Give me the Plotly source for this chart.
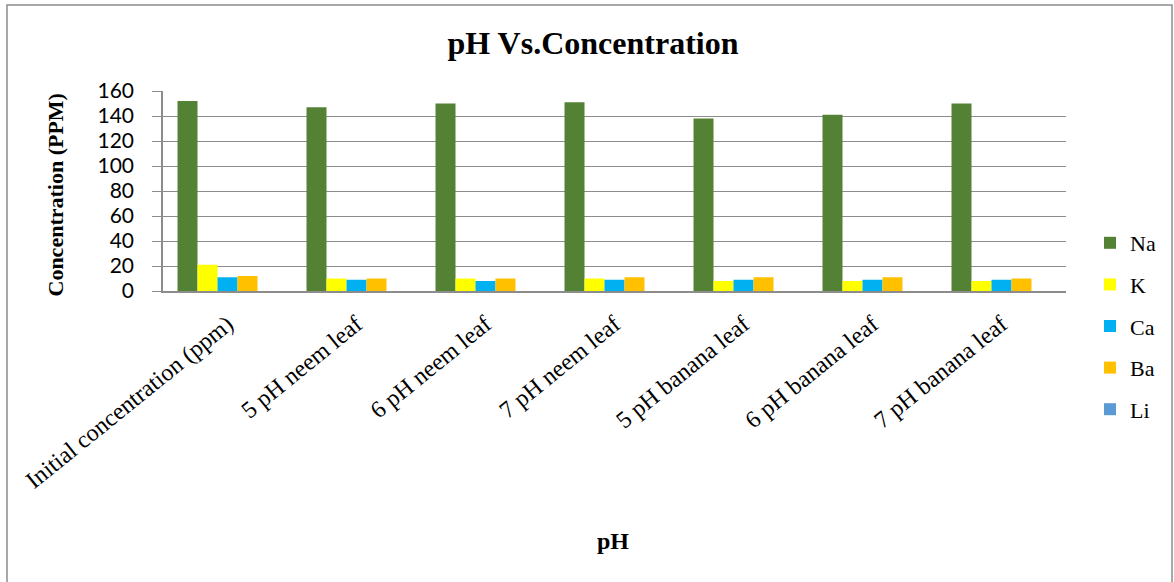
import plotly.graph_objects as go

categories = ["Initial concentration (ppm)", "5 pH neem leaf", "6 pH neem leaf",
              "7 pH neem leaf", "5 pH banana leaf", "6 pH banana leaf", "7 pH banana leaf"]
na = [152, 147, 150, 151, 138, 141, 150]
k = [21, 10, 10, 10, 8, 8, 8]
ca = [11, 9, 8, 9, 9, 9, 9]
ba = [12, 10, 10, 11, 11, 11, 10]
li = [0, 0, 0, 0, 0, 0, 0]

series = [("Na", na, "#548235"), ("K", k, "#FFFF00"), ("Ca", ca, "#00B0F0"),
          ("Ba", ba, "#FFC000"), ("Li", li, "#5B9BD5")]

fig = go.Figure()
for name, vals, col in series:
    fig.add_trace(go.Bar(x=categories, y=vals, name=name, marker_color=col,
                         marker_line_width=0, legendgroup=name))

W, H = 1174, 582
L, R, T, B = 163, 108, 91, 291
pw, ph = W - L - R, H - T - B

def px_x(p):
    return (p - L) / pw

def px_y(p):
    return (H - B - p) / ph

serif = "Liberation Serif"

fig.update_layout(
    width=W, height=H,
    margin=dict(l=L, r=R, t=T, b=B, autoexpand=False),
    paper_bgcolor="white", plot_bgcolor="white",
    barmode="group", bargap=0.225, bargroupgap=0,
    title=dict(text="<b>pH Vs.Concentration</b>", x=593 / W, xanchor="center",
               xref="container", y=1 - 43 / H, yanchor="middle", yref="container",
               font=dict(family=serif, size=32, color="black")),
    legend=dict(x=px_x(1090), xanchor="left", y=px_y(326), yanchor="middle",
                font=dict(family=serif, size=22, color="black"),
                tracegroupgap=10, itemwidth=30, traceorder="grouped",
                bgcolor="rgba(0,0,0,0)"),
    showlegend=True,
)
fig.update_xaxes(showline=True, linecolor="#8c8c8c", linewidth=1.5,
                 tickangle=-39, tickfont=dict(family=serif, size=24, color="black"),
                 ticklabelstandoff=8,
                 ticks="", showgrid=False, automargin=False)
fig.update_yaxes(range=[0, 160], dtick=20, showline=True, linecolor="#8c8c8c",
                 linewidth=1.5, ticks="outside", ticklen=9, tickcolor="#8c8c8c",
                 showgrid=True, gridcolor="#8c8c8c", gridwidth=1.2,
                 tickfont=dict(family="Lato", size=21, color="black"),
                 ticklabelstandoff=14,
                 zeroline=False, automargin=False)

fig.add_annotation(text="<b>Concentration (PPM)</b>", textangle=-90,
                   x=px_x(40), y=px_y(195), xref="paper", yref="paper",
                   showarrow=False, font=dict(family=serif, size=22, color="black"))
fig.add_annotation(text="<b>pH</b>", x=px_x(613), y=px_y(556), xref="paper", yref="paper",
                   showarrow=False, font=dict(family=serif, size=24, color="black"))

fig.add_shape(type="rect", xref="paper", yref="paper",
              x0=px_x(7), x1=px_x(1172), y0=px_y(600), y1=px_y(5),
              line=dict(color="#8c8c8c", width=1.5), fillcolor="rgba(0,0,0,0)", layer="below")

fig.write_html("out.html", config={"displayModeBar": False},
               post_script="document.body.style.margin='0px';")
